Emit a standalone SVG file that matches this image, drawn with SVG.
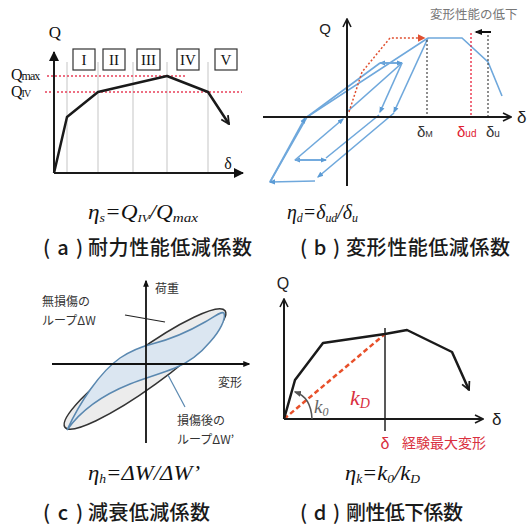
<svg xmlns="http://www.w3.org/2000/svg" width="532" height="528" viewBox="0 0 532 528">
<style>
.ax{stroke:#1a1a1a;stroke-width:2;fill:none}
.cv{stroke:#1a1a1a;stroke-width:2.5;fill:none;stroke-linejoin:round}
.gv{stroke:#cfcfcf;stroke-width:1.2}
.rd{stroke:#e8405a;stroke-width:1.3;stroke-dasharray:2,2}
.bx{fill:#fff;stroke:#333;stroke-width:1.2}
.tm{font-family:"Liberation Serif","DejaVu Serif",serif}
.ss{font-family:"Liberation Sans",Arial,sans-serif}
.jp{font-family:"Noto Sans CJK JP","Noto Sans",sans-serif}
.cap{font-family:"Noto Sans CJK JP","Noto Sans",sans-serif;font-size:20px;fill:#1a1a1a;font-weight:500}
.fm{font-family:"Liberation Serif","DejaVu Serif",serif;font-style:italic;font-size:20px;fill:#111}
.bl{stroke:#6fa8dc;stroke-width:1.6;fill:none}
.dk{stroke:#444;stroke-width:1.2;stroke-dasharray:2,2}
</style>
<defs>
<marker id="tri" viewBox="0 0 10 10" refX="9" refY="5" markerWidth="5" markerHeight="5" orient="auto"><path d="M0,0 L10,5 L0,10 Z" fill="#111"/></marker>
<marker id="chev" viewBox="0 0 10 10" refX="9" refY="5" markerWidth="5" markerHeight="5" orient="auto"><path d="M1,1 L9,5 L1,9" fill="none" stroke="#1a1a1a" stroke-width="1.6"/></marker>
<marker id="chevs" viewBox="0 0 10 10" refX="9" refY="5" markerWidth="4" markerHeight="4" orient="auto"><path d="M1,1 L9,5 L1,9" fill="none" stroke="#1a1a1a" stroke-width="1.8"/></marker>
<marker id="btri" viewBox="0 0 10 10" refX="8" refY="5" markerWidth="4" markerHeight="4" orient="auto"><path d="M0,1 L10,5 L0,9 Z" fill="#5b9bd5"/></marker>
<marker id="rtri" viewBox="0 0 10 10" refX="8" refY="5" markerWidth="5" markerHeight="5" orient="auto"><path d="M0,0 L10,5 L0,10 Z" fill="#e05030"/></marker>
<marker id="stri" viewBox="0 0 10 10" refX="8" refY="5" markerWidth="4" markerHeight="4" orient="auto"><path d="M0,1 L10,5 L0,9 Z" fill="#111"/></marker>
<marker id="gtri" viewBox="0 0 10 10" refX="8" refY="5" markerWidth="5" markerHeight="5" orient="auto"><path d="M0,1 L10,5 L0,9 Z" fill="#555"/></marker>
</defs>

<!-- Panel (a) -->
<g id="panel-a">
<g class="gv"><line x1="67" y1="62" x2="67" y2="173"/><line x1="98" y1="62" x2="98" y2="173"/><line x1="133" y1="62" x2="133" y2="173"/><line x1="167" y1="62" x2="167" y2="173"/><line x1="208" y1="62" x2="208" y2="173"/></g>
<g id="box-I"><rect class="bx" x="73" y="49" width="22" height="21"/><text class="tm" x="84" y="65" font-size="15" text-anchor="middle" fill="#111">I</text></g>
<g id="box-II"><rect class="bx" x="103" y="49" width="22" height="21"/><text class="tm" x="114" y="65" font-size="15" text-anchor="middle" fill="#111">II</text></g>
<g id="box-III"><rect class="bx" x="137" y="49" width="23" height="21"/><text class="tm" x="148.5" y="65" font-size="15" text-anchor="middle" fill="#111">III</text></g>
<g id="box-IV"><rect class="bx" x="177" y="49" width="22" height="21"/><text class="tm" x="188" y="65" font-size="15" text-anchor="middle" fill="#111">IV</text></g>
<g id="box-V"><rect class="bx" x="215" y="49" width="22" height="21"/><text class="tm" x="226" y="65" font-size="15" text-anchor="middle" fill="#111">V</text></g>
<line class="rd" x1="47" y1="76" x2="187" y2="76"/>
<line class="rd" x1="45" y1="92" x2="242" y2="92"/>
<line class="ax" x1="54" y1="173" x2="54" y2="52" marker-end="url(#tri)" stroke-width="2.5"/>
<line class="ax" x1="54" y1="173" x2="243" y2="173" marker-end="url(#tri)" stroke-width="2.5"/>
<polyline class="cv" points="54,173 67,117 98,92 167,76 208,92 229,124" marker-end="url(#chevs)"/>
<text class="tm" x="55" y="38" font-size="17" text-anchor="middle" fill="#111">Q</text>
<text class="tm" x="228" y="169" font-size="16" text-anchor="middle" fill="#111">δ</text>
<text class="tm" x="11" y="80" font-size="16" letter-spacing="-1" fill="#111">Q<tspan font-size="12">max</tspan></text>
<text class="tm" x="11" y="97" font-size="16" letter-spacing="-1" fill="#111">Q<tspan font-size="10">IV</tspan></text>
</g>

<!-- Panel (b) -->
<g id="panel-b">
<g id="hysteresis" class="bl">
<polyline points="270,182 307,117 428,38"/>
<line x1="270" y1="182" x2="305" y2="118" marker-end="url(#btri)"/>
<line x1="428" y1="38" x2="394" y2="112" marker-end="url(#btri)"/>
<line x1="394" y1="113" x2="318" y2="177" marker-end="url(#btri)"/>
<line x1="315" y1="181" x2="270" y2="182" marker-end="url(#btri)"/>
<line x1="326" y1="160" x2="295" y2="160" marker-end="url(#btri)"/>
<line x1="295" y1="160" x2="326" y2="160" marker-end="url(#btri)"/>
<line x1="295" y1="160" x2="343" y2="119" marker-end="url(#btri)"/>
<line x1="348" y1="111" x2="402" y2="63"/>
<line x1="402" y1="63" x2="380" y2="63" marker-end="url(#btri)"/>
<line x1="380" y1="63" x2="402" y2="63" marker-end="url(#btri)"/>
<line x1="307" y1="117" x2="380" y2="63"/>
<line x1="402" y1="63" x2="380" y2="112" marker-end="url(#btri)"/>
<line x1="379" y1="115" x2="326" y2="158"/>
<polyline points="428,38 462,38 488,62 502,96"/>
</g>
<line class="dk" x1="427" y1="40" x2="427" y2="117"/>
<line class="dk" x1="488" y1="35" x2="488" y2="117"/>
<line x1="471" y1="33" x2="471" y2="117" stroke="#e8203a" stroke-width="1.3" stroke-dasharray="2,2"/>
<polyline points="349,112 362,72 390,38 424,38" fill="none" stroke="#e05030" stroke-width="1.5" stroke-dasharray="2,2" marker-end="url(#rtri)"/>
<line class="ax" x1="263" y1="117" x2="511" y2="117" marker-end="url(#chev)"/>
<line class="ax" x1="347" y1="186" x2="347" y2="19" marker-end="url(#chev)"/>
<line x1="491" y1="32" x2="476" y2="32" stroke="#111" stroke-width="2" marker-end="url(#stri)"/>
<text class="jp" x="430" y="19" font-size="12.5" fill="#777">変形性能の低下</text>
<text class="ss" x="325" y="34" font-size="15" text-anchor="middle" fill="#222">Q</text>
<text class="ss" x="517" y="123" font-size="17" fill="#222">δ</text>
<text class="ss" x="417" y="137" font-size="15" fill="#333">δ<tspan font-size="9">M</tspan></text>
<text class="ss" x="457" y="137" font-size="15" fill="#e02030">δ<tspan font-size="10">ud</tspan></text>
<text class="ss" x="486" y="137" font-size="15" fill="#333">δ<tspan font-size="10">u</tspan></text>
</g>

<!-- Formulas and captions (a),(b) -->
<g id="caption-a">
<text class="fm" x="88" y="219" textLength="110" lengthAdjust="spacingAndGlyphs">η<tspan font-size="12" dy="3">s</tspan><tspan dy="-3">=Q</tspan><tspan font-size="11" dy="3">IV</tspan><tspan dy="-3">/Q</tspan><tspan font-size="13" dy="3">max</tspan></text>
<text class="cap" x="43" y="255" textLength="40" lengthAdjust="spacing">(a)</text>
<text class="cap" x="88" y="255" textLength="164" lengthAdjust="spacing">耐力性能低減係数</text>
</g>
<g id="caption-b">
<text class="fm" x="287" y="219" textLength="71" lengthAdjust="spacingAndGlyphs">η<tspan font-size="12" dy="3">d</tspan><tspan dy="-3">=δ</tspan><tspan font-size="12" dy="3">ud</tspan><tspan dy="-3">/δ</tspan><tspan font-size="12" dy="3">u</tspan></text>
<text class="cap" x="300" y="255" textLength="40" lengthAdjust="spacing">(b)</text>
<text class="cap" x="346" y="255" textLength="164" lengthAdjust="spacing">変形性能低減係数</text>
</g>

<!-- Panel (c) -->
<g id="panel-c">
<ellipse cx="145" cy="369" rx="99" ry="18.5" transform="rotate(-36 145 369)" fill="#ececec" stroke="#333" stroke-width="1.5"/>
<path d="M67,430 C80,402 100,372 120,358 C132,350 140,347 152,344 C168,340 186,333 205,322 C214,317 221,311 224,313 C226,319 220,331 210,342 C200,354 190,362 175,368 C160,374 145,378 130,384 C110,392 84,406 67,430 Z" fill="#dbe6f1" stroke="#5a88b0" stroke-width="1.5"/>
<line x1="52" y1="364" x2="249" y2="364" stroke="#111" stroke-width="1.8" marker-end="url(#stri)"/>
<line x1="146" y1="443" x2="146" y2="281" stroke="#111" stroke-width="1.8" marker-end="url(#stri)"/>
<line x1="125" y1="315" x2="165" y2="322" stroke="#222" stroke-width="1.2"/>
<line x1="168" y1="375" x2="185" y2="407" stroke="#5a88b0" stroke-width="1.2"/>
<text class="jp" x="155" y="293" font-size="12" fill="#333">荷重</text>
<text class="jp" x="218" y="387" font-size="12" fill="#333">変形</text>
<text class="jp" x="42" y="306" font-size="12" fill="#333">無損傷の</text>
<text class="jp" x="42" y="325" font-size="12" fill="#333">ループΔW</text>
<text class="jp" x="177" y="425" font-size="12" fill="#333">損傷後の</text>
<text class="jp" x="177" y="444" font-size="12" fill="#333">ループΔW’</text>
</g>

<!-- Panel (d) -->
<g id="panel-d">
<line x1="385" y1="328" x2="385" y2="431" stroke="#222" stroke-width="1.5"/>
<line x1="284" y1="419" x2="385" y2="334" stroke="#e8502a" stroke-width="2.5" stroke-dasharray="5,3"/>
<line class="ax" x1="284" y1="419" x2="284" y2="299" marker-end="url(#chev)"/>
<line class="ax" x1="284" y1="419" x2="483" y2="419" marker-end="url(#chev)"/>
<polyline class="cv" points="284,419 295,380 323,343 385,334 407,330 452,352 469,390" marker-end="url(#chevs)"/>
<path d="M312,419 Q311,397 295,392" fill="none" stroke="#555" stroke-width="1.5" marker-end="url(#gtri)"/>
<text class="tm" x="314" y="413" font-size="19" font-style="italic" fill="#666">k<tspan font-size="12" dy="3">0</tspan></text>
<text class="tm" x="350" y="405" font-size="22" font-style="italic" fill="#d93040">k<tspan font-size="14" dy="3">D</tspan></text>
<text class="ss" x="283" y="289" font-size="16" text-anchor="middle" fill="#222">Q</text>
<text class="ss" x="492" y="425" font-size="17" fill="#222">δ</text>
<text class="ss" x="385" y="449" font-size="16" fill="#d93040" text-anchor="middle">δ</text>
<text class="jp" x="402" y="448" font-size="14" fill="#d93040">経験最大変形</text>
</g>

<!-- Formulas and captions (c),(d) -->
<g id="caption-c">
<text class="fm" x="88" y="480" textLength="112" lengthAdjust="spacingAndGlyphs">η<tspan font-size="12" dy="3">h</tspan><tspan dy="-3">=ΔW/ΔW’</tspan></text>
<text class="cap" x="43" y="520" textLength="40" lengthAdjust="spacing">(c)</text>
<text class="cap" x="88" y="520" textLength="122" lengthAdjust="spacing">減衰低減係数</text>
</g>
<g id="caption-d">
<text class="fm" x="345" y="480" textLength="75" lengthAdjust="spacingAndGlyphs">η<tspan font-size="12" dy="3">k</tspan><tspan dy="-3">=k</tspan><tspan font-size="12" dy="3">0</tspan><tspan dy="-3">/k</tspan><tspan font-size="12" dy="3">D</tspan></text>
<text class="cap" x="300" y="520" textLength="40" lengthAdjust="spacing">(d)</text>
<text class="cap" x="346" y="520" textLength="117" lengthAdjust="spacing">剛性低下係数</text>
</g>
</svg>
